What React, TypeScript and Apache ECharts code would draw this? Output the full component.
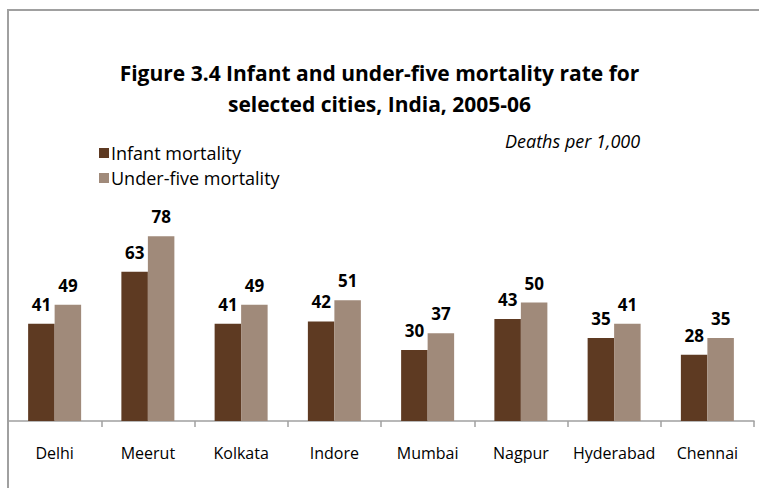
import React, { useEffect, useRef } from "react";
import * as echarts from "echarts";

const cities = ["Delhi", "Meerut", "Kolkata", "Indore", "Mumbai", "Nagpur", "Hyderabad", "Chennai"];
const infantMortality = [41, 63, 41, 42, 30, 43, 35, 28];
const underFiveMortality = [49, 78, 49, 51, 37, 50, 41, 35];
const titleLines = ["Figure 3.4 Infant and under-five mortality rate for", "selected cities, India, 2005-06"];
const unitNote = "Deaths per 1,000";

const FONT = "'Open Sans', 'Noto Sans', sans-serif";

export default function App() {
  const ref = useRef<HTMLDivElement>(null);
  useEffect(() => {
    if (!ref.current) return;
    const chart = echarts.init(ref.current, undefined, { renderer: "svg" });
    const labelCfg = {
      show: true,
      position: "top",
      distance: 11,
      fontFamily: FONT,
      fontWeight: "bold",
      fontSize: 17,
      color: "#000",
    };
    chart.setOption({
      animation: false,
      title: {
        text: titleLines.join("\n"),
        left: "center",
        top: 52,
        textStyle: { fontFamily: FONT, fontWeight: "bold", fontSize: 21, lineHeight: 31, color: "#000" },
      },
      legend: {
        orient: "vertical",
        left: 94,
        top: 139,
        itemWidth: 10,
        itemHeight: 10,
        itemGap: 7,
        icon: "rect",
        textStyle: { fontFamily: FONT, fontSize: 18, color: "#000", padding: [0, 0, 0, -3] },
      },
      graphic: [
        {
          type: "text",
          left: 505,
          top: 132,
          style: { text: unitNote, fontFamily: FONT, fontStyle: "italic", fontSize: 18, fill: "#000" },
        },
      ],
      grid: { left: 8, right: 5, top: 184, bottom: 67, containLabel: false },
      xAxis: {
        type: "category",
        data: cities,
        axisLine: { show: true, lineStyle: { color: "#a0a0a0", width: 1.5 } },
        axisTick: { show: true, length: 6, lineStyle: { color: "#a0a0a0", width: 1.5 } },
        axisLabel: { fontFamily: FONT, fontSize: 16, color: "#000", margin: 24, interval: 0 },
        splitLine: { show: false },
      },
      yAxis: {
        type: "value",
        min: 0,
        max: 100,
        show: false,
        splitLine: { show: false },
      },
      series: [
        {
          name: "Infant mortality",
          type: "bar",
          data: infantMortality,
          barWidth: 26.5,
          barGap: "0%",
          itemStyle: { color: "#5e3a22" },
          label: labelCfg,
        },
        {
          name: "Under-five mortality",
          type: "bar",
          data: underFiveMortality,
          barWidth: 26.5,
          barGap: "0%",
          itemStyle: { color: "#a08a7a" },
          label: labelCfg,
        },
      ],
    });
    return () => chart.dispose();
  }, []);
  return (
    <div style={{ position: "fixed", left: 0, top: 0, width: 759, height: 488, overflow: "hidden", background: "#fff" }}>
      <div
        style={{
          position: "absolute",
          left: 7,
          top: 9,
          width: 800,
          height: 600,
          borderTop: "2px solid #a0a0a0",
          borderLeft: "2px solid #a0a0a0",
          boxSizing: "border-box",
        }}
      />
      <div ref={ref} style={{ position: "absolute", left: 0, top: 0, width: 759, height: 488 }} />
      <div style={{ position: "absolute", left: 744, top: 12, width: 15, height: 400, background: "#fff", zIndex: 5 }} />
    </div>
  );
}
